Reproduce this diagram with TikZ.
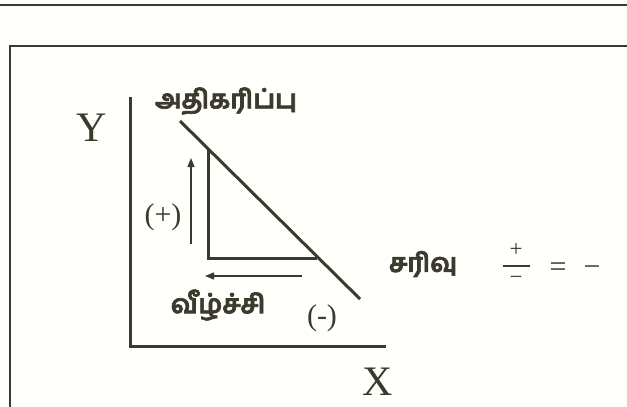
\documentclass[tikz,border=0pt]{standalone}
\usepackage{fontspec}
\setmainfont{Liberation Serif}
\newfontfamily\tamil[Script=Tamil,FakeBold=2.5]{Hind Madurai}
\usetikzlibrary{arrows.meta}
\definecolor{ink}{RGB}{60,57,45}
\definecolor{paper}{RGB}{255,255,252}
\tikzset{
  frameline/.style={draw=ink,line width=2.4pt},
  axisline/.style={draw=ink,line width=3pt},
  thinarrow/.style={draw=ink,line width=1.3pt,-{Triangle[length=9pt,width=7pt]}},
  latinlbl/.style={text=ink,inner sep=0pt,font=\fontsize{42}{46}\selectfont},
  signlbl/.style={text=ink,inner sep=0pt,font=\fontsize{30}{34}\selectfont},
  fraclbl/.style={text=ink,inner sep=0pt,font=\fontsize{23}{26}\selectfont,text height=9pt,text depth=-1pt},
  tamillbl/.style={text=ink,inner sep=0pt,font=\tamil\bfseries\fontsize{26}{30}\selectfont},
}
\begin{document}
\begin{tikzpicture}[x=1pt,y=-1pt]
\useasboundingbox[fill=paper] (0,0) rectangle (627,407);
% page rules
\coordinate (t1) at (0,5);
\coordinate (t2) at (627,5);
\draw[frameline] (t1) -- (t2);
\coordinate (f1) at (10,407);
\coordinate (f2) at (10,46);
\coordinate (f3) at (627,46);
\draw[frameline] (f1) -- (f2) -- (f3);
% axes
\coordinate (ytop) at (130,97);
\coordinate (origin) at (130,346);
\coordinate (xend) at (386,346);
\draw[axisline] (ytop) -- (origin) -- (xend);
% demand line
\coordinate (d1) at (180,121);
\coordinate (d2) at (360,299);
\draw[axisline] (d1) -- (d2);
% triangle
\coordinate (v1) at (208,149);
\coordinate (v2) at (208,258);
\coordinate (h2) at (317,258);
\draw[axisline] (v1) -- (v2) -- (h2);
% arrows
\coordinate (ua1) at (191,244);
\coordinate (ua2) at (191,158);
\draw[thinarrow] (ua1) -- (ua2);
\coordinate (la1) at (302,276);
\coordinate (la2) at (205,276);
\draw[thinarrow] (la1) -- (la2);
% labels
\node[latinlbl] (ylbl) at (92,128) {Y};
\node[latinlbl] (xlbl) at (378,382) {X};
\node[signlbl] (plus) at (163,217) {(+)};
\node[signlbl] (minus) at (322,318) {(-)};
\node[tamillbl] (inc) at (226,101) {அதிகரிப்பு};
\node[tamillbl] (dec) at (218,305) {வீழ்ச்சி};
\node[tamillbl] (slope) at (423,264) {சரிவு};
\node[fraclbl] (num) at (516,252) {+};
\coordinate (b1) at (503,266);
\coordinate (b2) at (530,266);
\draw[draw=ink,line width=1.6pt] (b1) -- (b2);
\node[fraclbl] (den) at (516,280) {−};
\node[signlbl,text height=11pt,text depth=-1pt] (eq) at (558,271) {=};
\node[signlbl,text height=11pt,text depth=-1pt] (neg) at (592,271) {−};
\end{tikzpicture}
\end{document}
